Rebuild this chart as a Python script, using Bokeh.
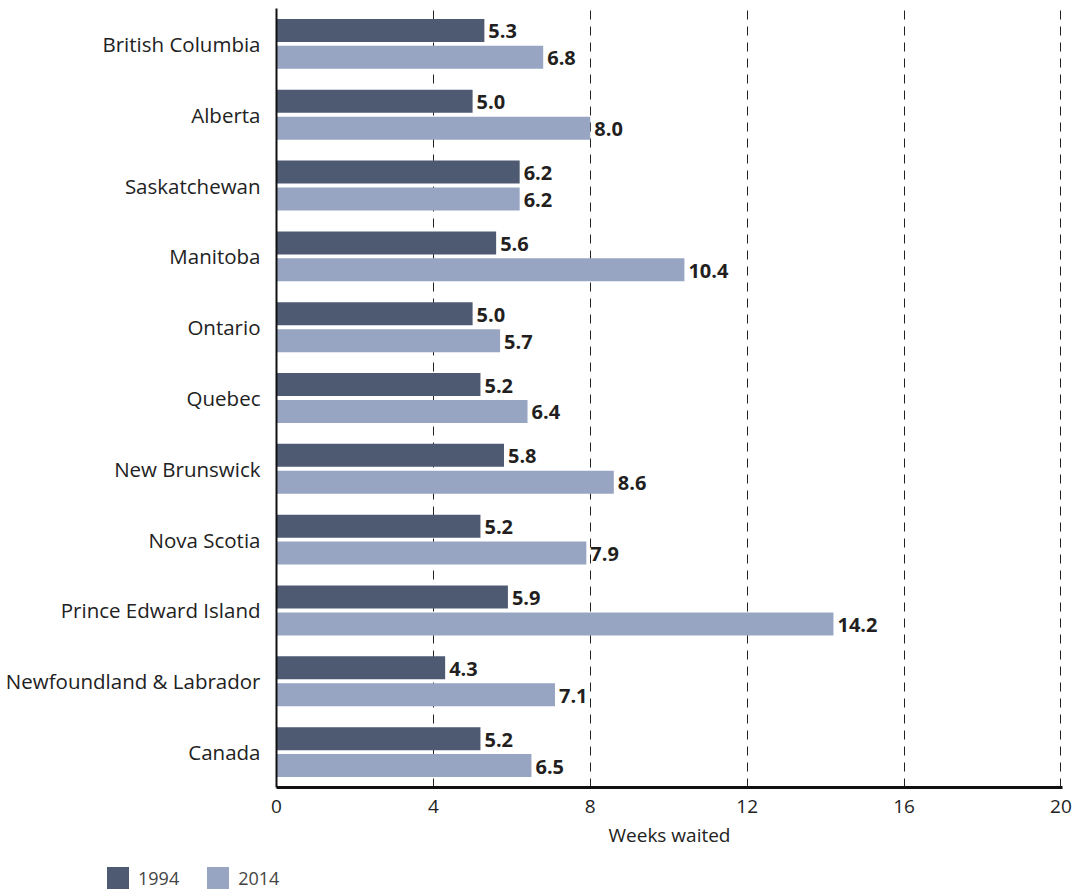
from bokeh.plotting import figure
from bokeh.layouts import column
from bokeh.models import ColumnDataSource, FactorRange, Range1d, FixedTicker, Div
from bokeh.transform import dodge
from bokeh.core.properties import value
from bokeh.embed import file_html
from bokeh.resources import INLINE

categories = ["British Columbia", "Alberta", "Saskatchewan", "Manitoba", "Ontario",
              "Quebec", "New Brunswick", "Nova Scotia", "Prince Edward Island",
              "Newfoundland & Labrador", "Canada"]
weeks_1994 = [5.3, 5.0, 6.2, 5.6, 5.0, 5.2, 5.8, 5.2, 5.9, 4.3, 5.2]
weeks_2014 = [6.8, 8.0, 6.2, 10.4, 5.7, 6.4, 8.6, 7.9, 14.2, 7.1, 6.5]
x_ticks = [0, 4, 8, 12, 16, 20]
series_names = ["1994", "2014"]

FONT = "Open Sans"
DARK = "#4e5a72"
LIGHT = "#97a5c2"
series_colors = [DARK, LIGHT]

src = ColumnDataSource(dict(
    cat=categories,
    v1994=weeks_1994,
    v2014=weeks_2014,
    t1994=[f"{v:.1f}" for v in weeks_1994],
    t2014=[f"{v:.1f}" for v in weeks_2014],
))

p = figure(width=1079, height=853,
           y_range=FactorRange(*reversed(categories)),
           x_range=Range1d(0, 20.04),
           output_backend="svg", toolbar_location=None,
           min_border_left=276, min_border_right=17,
           min_border_top=8, min_border_bottom=66)
p.outline_line_color = None
p.background_fill_color = "white"
p.border_fill_color = "white"

p.hbar(y=dodge("cat", 0.19, range=p.y_range), right="v1994", left=0,
       height=0.325, source=src, color=DARK, line_color=None)
p.hbar(y=dodge("cat", -0.19, range=p.y_range), right="v2014", left=0,
       height=0.325, source=src, color=LIGHT, line_color=None)

for col, off in (("1994", 0.19), ("2014", -0.19)):
    p.text(x="v" + col, y=dodge("cat", off, range=p.y_range), text="t" + col,
           source=src, x_offset=4, y_offset=1, text_baseline="middle", text_align="left",
           text_font=value(FONT), text_font_style="bold", text_font_size="20px",
           text_color="#231f20")

# axes
p.xaxis.ticker = FixedTicker(ticks=x_ticks)
p.xaxis.axis_label = "Weeks waited"
p.xaxis.axis_label_text_font = FONT
p.xaxis.axis_label_text_font_style = "normal"
p.xaxis.axis_label_text_font_size = "19px"
p.xaxis.axis_label_text_color = "#222222"
p.xaxis.axis_label_standoff = 6
p.xaxis.major_label_text_font = FONT
p.xaxis.major_label_text_font_size = "19px"
p.xaxis.major_label_text_color = "#222222"
p.xaxis.major_label_standoff = 6
p.xaxis.axis_line_width = 3
p.xaxis.axis_line_color = "#111111"
p.xaxis.major_tick_line_color = None
p.xaxis.minor_tick_line_color = None

p.yaxis.major_label_text_font = FONT
p.yaxis.major_label_text_font_size = "20.5px"
p.yaxis.major_label_text_color = "#222222"
p.yaxis.major_label_standoff = 10
p.yaxis.axis_line_width = 2
p.yaxis.axis_line_color = "#111111"
p.yaxis.major_tick_line_color = None
p.yaxis.minor_tick_line_color = None

p.ygrid.grid_line_color = None
p.xgrid.grid_line_color = "#222222"
p.xgrid.grid_line_dash = "9 7"
p.xgrid.grid_line_width = 1

# legend strip below the chart
items_html = ""
for name, colr in zip(series_names, series_colors):
    items_html += (
        f'<span style="display:inline-block;width:22px;height:22px;background:{colr};'
        f'margin-right:9px;"></span>'
        f'<span style="display:inline-block;margin-right:28px;line-height:22px;'
        f'vertical-align:top;">{name}</span>'
    )
legend_div = Div(
    text=(f'<div style="padding-left:107px;padding-top:14px;font-family:\'{FONT}\';'
          f'font-size:18px;color:#444444;white-space:nowrap;display:flex;'
          f'align-items:center;">{items_html}</div>'),
    width=1079, height=40, margin=0)

layout = column(p, legend_div, spacing=0)
open("out.html", "w").write(file_html(layout, INLINE))
